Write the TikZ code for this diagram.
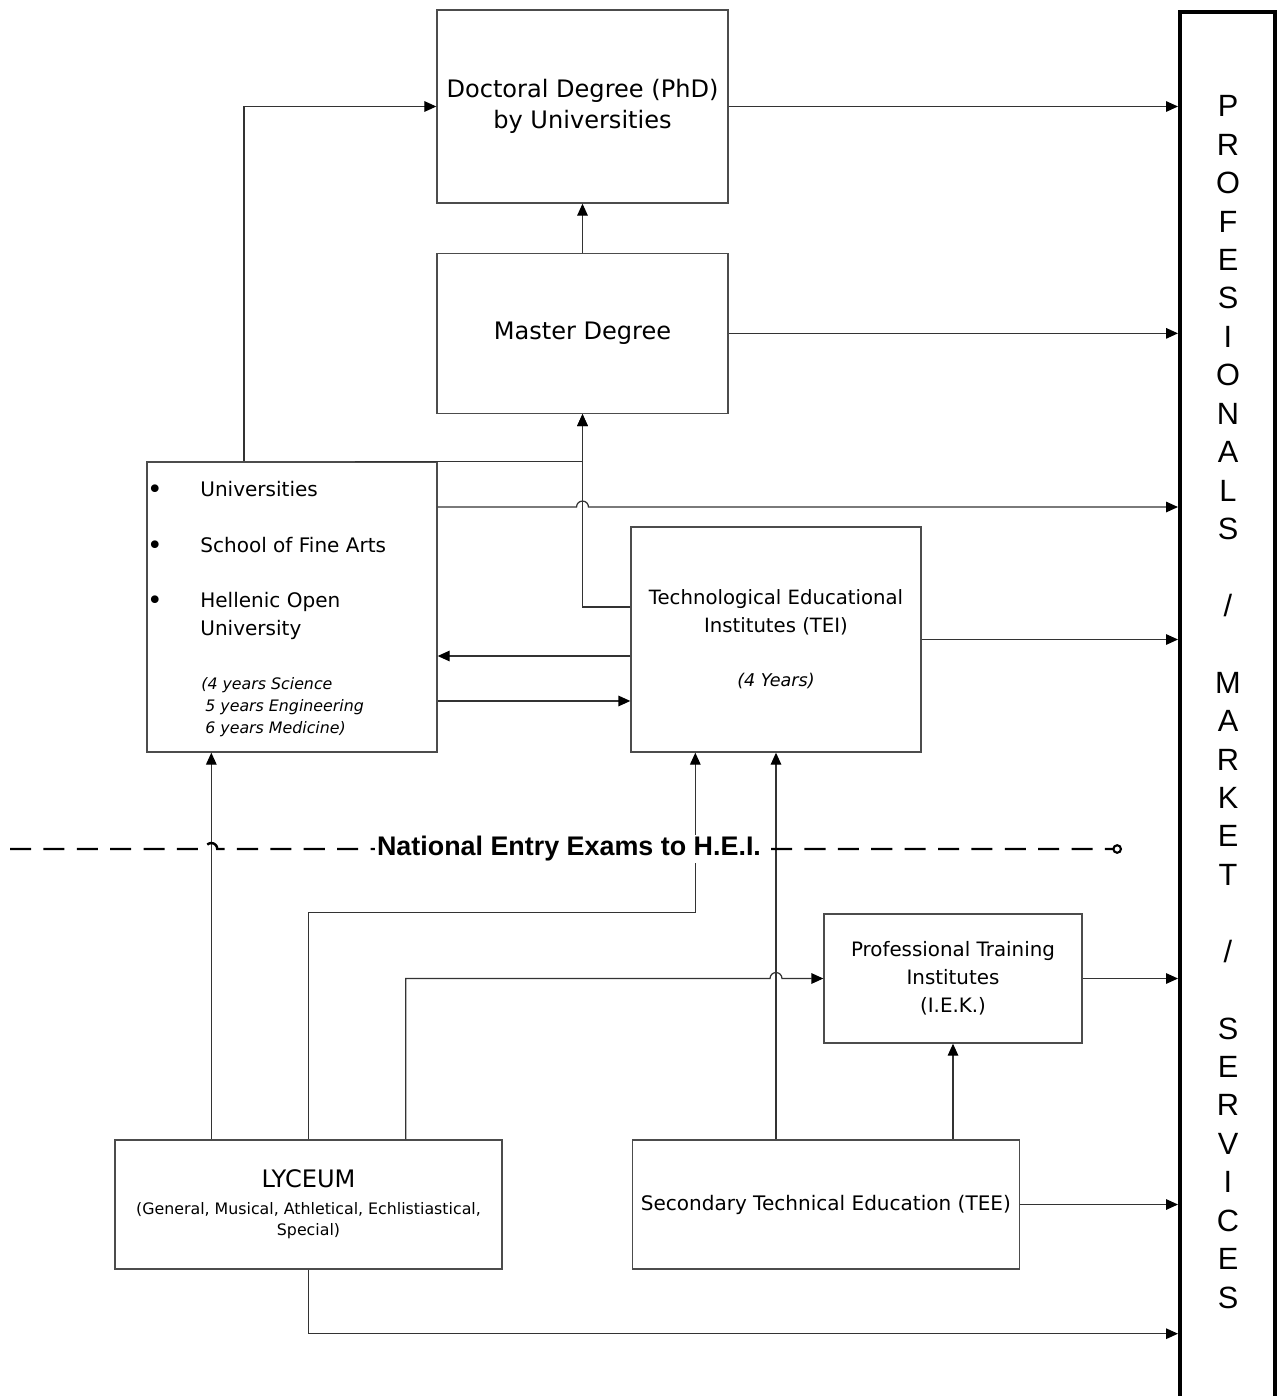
\documentclass[tikz,border=0pt]{standalone}
\usepackage{fontspec}
\setmainfont{DejaVu Sans}
\newfontfamily\arialfont{Liberation Sans}
\usetikzlibrary{positioning,arrows.meta}

\begin{document}
\begin{tikzpicture}[x=0.02cm,y=-0.02cm]
\tikzstyle{block}=[draw=black!70,line width=0.8pt,rectangle,align=center,inner sep=0pt]
\tikzstyle{item}=[anchor=base west,inner sep=0pt,font=\fontsize{11.4}{13}\selectfont]
\tikzstyle{dot}=[anchor=base,inner sep=0pt,font=\fontsize{15}{15}\selectfont]
\tikzstyle{note}=[anchor=base west,inner sep=0pt,font=\fontsize{9}{11}\selectfont\itshape]
\tikzstyle{conn}=[draw=black!80,line width=0.7pt]
\tikzstyle{arr}=[conn,-{Triangle[length=6.8pt,width=6pt,color=black]}]
\tikzstyle{hop}=[start angle=180,end angle=0,radius=3.4pt]
\useasboundingbox (0,0) rectangle (1278,1396);

\node[block,minimum width=5.82cm,minimum height=3.86cm,font=\fontsize{13.7}{17.6}\selectfont] (phd) at (582.5,106.5) {Doctoral Degree (PhD)\\by Universities};
\node[block,minimum width=5.82cm,minimum height=3.2cm,below=0.98cm of phd,font=\fontsize{13.7}{17.6}\selectfont] (master) {Master Degree};

\node[block,minimum width=5.8cm,minimum height=5.8cm] (uni) at (292,607) {};
\node[dot] (b1) at (155,498) {\textbullet};
\node[dot] (b2) at (155,554) {\textbullet};
\node[dot] (b3) at (155,609) {\textbullet};
\node[item] (uni1) at (200,496) {Universities};
\node[item] (uni2) at (200,552) {School of Fine Arts};
\node[item] (uni3) at (200,607) {Hellenic Open};
\node[item] (uni4) at (200,635) {University};
\node[note] (yrs1) at (201,689) {(4 years Science};
\node[note] (yrs2) at (205,711) {5 years Engineering};
\node[note] (yrs3) at (205,733) {6 years Medicine)};

\node[block,minimum width=5.8cm,minimum height=4.5cm,font=\fontsize{11.2}{15.9}\selectfont] (tei) at (776,639.5) {Technological Educational\\Institutes (TEI)\\[15pt]{\fontsize{10}{12}\selectfont\itshape (4 Years)}};

\node[block,minimum width=5.16cm,minimum height=2.58cm,font=\fontsize{11.3}{15.9}\selectfont] (iek) at (953,978.5) {Professional Training\\Institutes\\(I.E.K.)};

\node[block,minimum width=7.74cm,minimum height=2.58cm,font=\fontsize{9}{12.5}\selectfont] (lyc) at (308.5,1204.5) {{\fontsize{13.7}{16}\selectfont LYCEUM}\\[2.5pt](General, Musical, Athletical, Echlistiastical,\\Special)};
\node[block,minimum width=7.74cm,minimum height=2.58cm,right=2.58cm of lyc,font=\fontsize{11.4}{14}\selectfont] (tee) {Secondary Technical Education (TEE)};

\node[draw,line width=2.3pt,minimum width=1.9cm,minimum height=27.96cm,inner sep=0pt] (bar) at (1227.5,711) {};
\node[align=center,inner sep=0pt,font=\arialfont\fontsize{17.5}{21.87}\selectfont] (bartext) at (1228,702) {P\\R\\O\\F\\E\\S\\I\\O\\N\\A\\L\\S\\[21.87pt]/\\[21.87pt]M\\A\\R\\K\\E\\T\\[21.87pt]/\\[21.87pt]S\\E\\R\\V\\I\\C\\E\\S};

% to the market
\draw[arr] (phd.east) -- (phd.east -| bar.west);
\draw[arr] (master.east) -- (master.east -| bar.west);
\draw[arr] (tei.east) -- (tei.east -| bar.west);
\draw[arr] (iek.east) -- (iek.east -| bar.west);
\draw[arr] (tee.east) -- (tee.east -| bar.west);
\draw[arr] (lyc.south) -- ++(0,64) coordinate (l1) -- (l1 -| bar.west);
\coordinate (u1) at ([yshift=2cm]uni.east);
\coordinate (hopA) at (u1 -| master.south);
\draw[arr] (u1) -- ([xshift=-3.4pt]hopA) arc[hop] -- (u1 -| bar.west);

% postgraduate
\draw[arr] (master.north) -- (phd.south);
\draw[arr] ([xshift=-0.96cm]uni.north) |- (phd.west);
\draw[arr] ([xshift=1.26cm]uni.north) -| (master.south);
\draw[arr] ([yshift=0.65cm]tei.west) -| (master.south);

% between universities and TEI
\coordinate (t1) at ([yshift=-0.33cm]tei.west);
\draw[arr] (t1) -- (t1 -| uni.east);
\coordinate (u2) at ([yshift=-1.88cm]uni.east);
\draw[arr] (u2) -- (u2 -| tei.west);

% from secondary education
\coordinate (lycU) at ([xshift=1.94cm]lyc.north west);
\draw[arr] (lycU) -- (lycU |- uni.south);
\draw[arr] (lyc.north) -- ++(0,-227) -| ([xshift=1.3cm]tei.south west);
\coordinate (lycI) at ([xshift=-1.94cm]lyc.north east);
\coordinate (hopB) at (tei.south |- iek.west);
\draw[arr] (lycI) |- ([xshift=-3.4pt]hopB) arc[hop] -- (iek.west);
\draw[arr] (tei.south |- tee.north) -- (tei.south);
\draw[arr] (iek.south |- tee.north) -- (iek.south);

% entry exams
\coordinate (examL) at (10,849);
\coordinate (examR) at (1122,849);
\draw[line width=1.4pt,dash pattern=on 12pt off 7pt,-{Circle[open,length=5.5pt,width=5.5pt,line width=1.2pt]}] (examL) -- ([xshift=-3.4pt]examL -| lycU) arc[hop] -- (examR);
\node[fill=white,inner sep=1pt,font=\arialfont\bfseries\fontsize{15.3}{18}\selectfont] (exam) at (569,849) {National Entry Exams to H.E.I.};
\end{tikzpicture}
\end{document}
